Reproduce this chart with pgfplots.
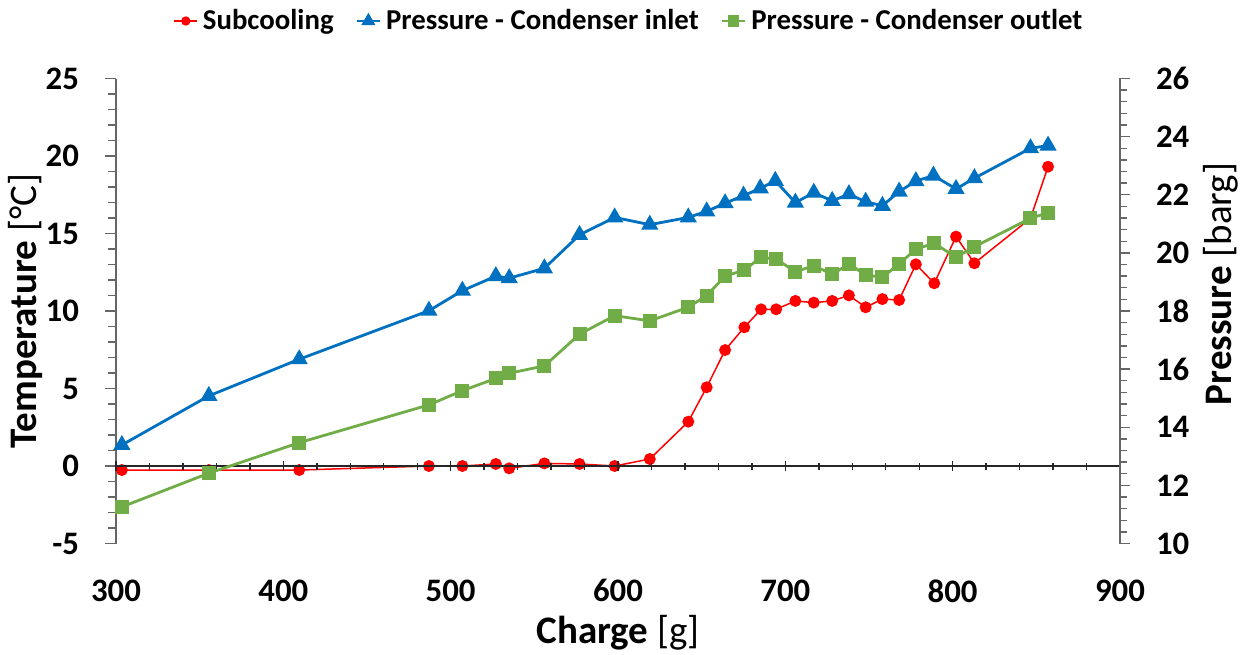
\documentclass[border=0pt]{standalone}
\usepackage{fontspec}
\setmainfont{Carlito}
\usepackage{pgfplots}
\pgfplotsset{compat=1.18}

\definecolor{sub}{HTML}{FF0000}
\definecolor{pin}{HTML}{0070C0}
\definecolor{pout}{HTML}{70AD47}

\pgfplotsset{
  common/.style={
    scale only axis, width=502pt, height=232.5pt,
    xmin=300, xmax=900,
    /pgf/number format/assume math mode=true,
    tick label style={font=\bfseries\fontsize{16.4}{18}\selectfont},
    label style={font=\fontsize{19.5}{22}\selectfont, inner sep=0pt},
    axis line style={black!60, line width=0.7pt},
    tick style={black!60, line width=0.7pt},
    tick align=outside,
    major tick length=5.5pt, minor tick length=4pt,
  },
}

\begin{document}
\begin{tikzpicture}
% left axis: subcooling
\begin{axis}[common, name=ax,
    ymin=-5, ymax=25,
    ytick={-5,0,...,25},
    minor y tick num=4,
    axis y line*=left,
    axis x line*=bottom,
    x axis line style={draw=none},
    x tick style={draw=none},
    xtick={300,400,...,900},
    xticklabel style={yshift=-9pt},
    yticklabel style={xshift=-9.5pt},
    xlabel={\textbf{Charge} [g]},
    xlabel style={at={(axis description cs:0.5,-0.214)}, anchor=base},
    ylabel={\textbf{Temperature} [°C]},
    ylabel style={at={(axis description cs:-0.0727,0.5)}, anchor=south},
]
\addplot[color=sub, line width=0.75pt, mark=*, mark size=2.6pt] coordinates {
(303.5,-0.26)(355.5,-0.26)(409.5,-0.26)(487,0.0)(507,0.0)(527,0.13)(535,-0.15)
(556,0.17)(577,0.13)(598,0.0)(619,0.45)(642,2.86)(653,5.08)(664,7.48)(675.5,8.95)
(685.5,10.11)(694.5,10.11)(706,10.65)(717,10.54)(728,10.65)(738,11.01)(748,10.24)
(758,10.77)(768,10.71)(778,13.01)(789,11.79)(802,14.80)(813,13.08)(846.5,15.98)(857,19.31)
};
\end{axis}
% x axis line at zero
\begin{axis}[common,
    ymin=-5, ymax=25,
    axis x line=middle, axis y line=none,
    axis line style={-, black!85},
    tick style={black!85},
    xtick={300,400,...,900},
    minor x tick num=4,
    major tick length=5pt, minor tick length=3.5pt,
    xticklabels={},
]
\end{axis}
% right axis: pressures
\begin{axis}[common,
    ymin=10, ymax=26,
    ytick={10,12,...,26},
    minor y tick num=4,
    major tick length=5pt, minor tick length=3.5pt,
    axis y line*=right,
    axis x line=none,
    yticklabel style={xshift=9.5pt},
    ylabel={\textbf{Pressure} [barg]},
    ylabel style={at={(axis description cs:1.0827,0.558)}, anchor=north, rotate=0},
    legend columns=3,
    legend style={draw=none, at={(0.512,1)}, anchor=center, yshift=28.75pt,
      font=\bfseries\fontsize{14.4}{16}\selectfont,
      /tikz/every odd column/.append style={column sep=0.5pt},
      /tikz/every even column/.append style={column sep=9pt}},
    legend image code/.code={
      \draw[mark repeat=2, mark phase=2, #1, mark options={scale=0.75}]
        plot coordinates {(0cm,0cm) (0.2cm,0cm) (0.4cm,0cm)};
      },
]
\addlegendimage{color=sub, line width=0.75pt, mark=*, mark size=2.6pt}
\addlegendentry{Subcooling}
\addplot[color=pin, line width=1.4pt, mark=triangle*, mark size=3.6pt] coordinates {
(303.5,13.39)(355.5,15.08)(409.5,16.34)(487,18.01)(507,18.70)(527,19.20)(535,19.13)
(556,19.47)(577,20.62)(598,21.22)(619,20.97)(642,21.22)(653,21.43)(664,21.71)(675,21.97)
(685,22.22)(694,22.48)(706,21.73)(717,22.07)(728,21.79)(738,22.02)(748,21.76)
(758,21.62)(768,22.11)(778,22.47)(788.5,22.66)(802,22.20)(813,22.57)(846.5,23.60)(857,23.69)
};
\addlegendentry{Pressure - Condenser inlet}
\addplot[color=pout, line width=1.4pt, mark=square*, mark size=2.8pt] coordinates {
(303.5,11.26)(355.5,12.42)(409.5,13.47)(487,14.77)(507,15.26)(527,15.68)(535,15.86)
(556,16.11)(577,17.20)(598,17.84)(619,17.66)(642,18.13)(653,18.53)(664,19.20)(675.5,19.41)
(685.5,19.85)(694.5,19.79)(706,19.35)(717,19.56)(728,19.26)(738,19.62)(748,19.24)
(758,19.16)(768,19.62)(778,20.13)(789,20.33)(802,19.85)(813,20.21)(846.5,21.19)(857,21.38)
};
\addlegendentry{Pressure - Condenser outlet}
\end{axis}
\path ([shift={(-58pt,-55.25pt)}]ax.south west) rectangle ([shift={(64.5pt,39.25pt)}]ax.north east);
\end{tikzpicture}
\end{document}
